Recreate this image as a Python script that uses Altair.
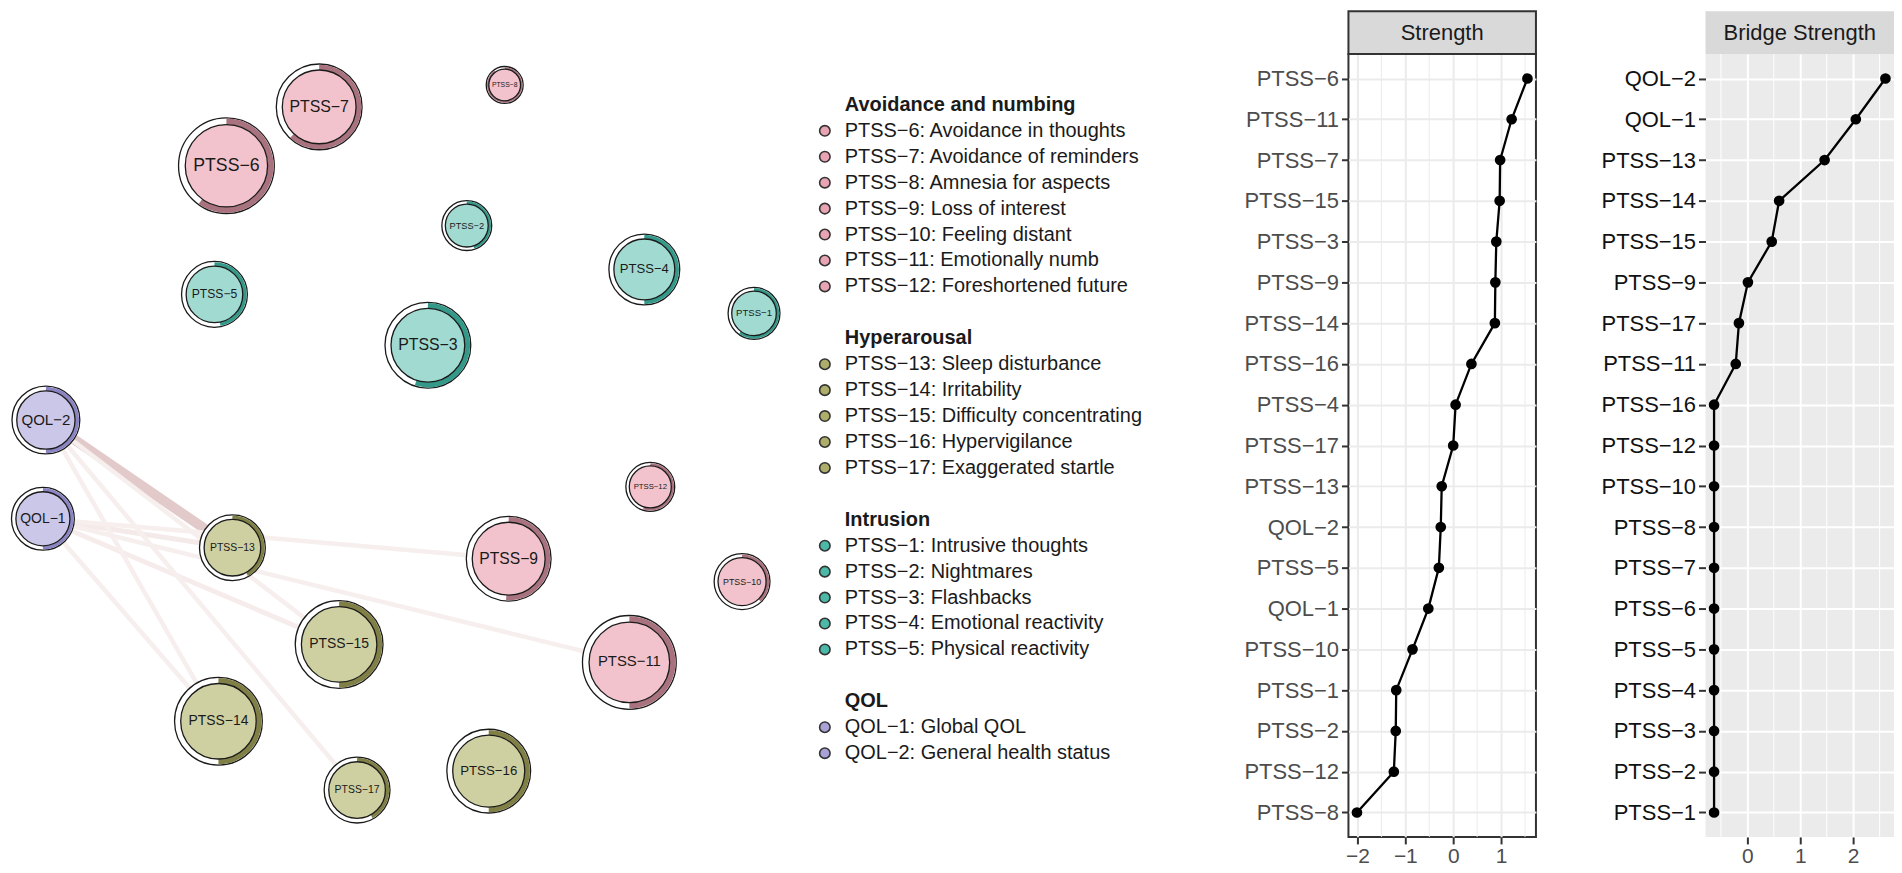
import altair as alt
import pandas as pd

FONT = "Liberation Sans"

# ---------------- network nodes (layout) ----------------
node_names = ["PTSS−1", "PTSS−2", "PTSS−3", "PTSS−4", "PTSS−5",
              "PTSS−6", "PTSS−7", "PTSS−8", "PTSS−9", "PTSS−10", "PTSS−11", "PTSS−12",
              "PTSS−13", "PTSS−14", "PTSS−15", "PTSS−16", "PTSS−17",
              "QOL−1", "QOL−2"]
node_groups = ["Intrusion"] * 5 + ["Avoidance and numbing"] * 7 + ["Hyperarousal"] * 5 + ["QOL"] * 2
node_x = [752, 464, 425, 642, 211, 223, 316, 502, 506, 740, 627, 648, 229, 215, 336, 486, 354, 39, 42]
node_y = [311, 223, 343, 267, 292, 163, 104, 82, 557, 580, 661, 485, 546, 720, 643, 770, 789, 517, 418]
node_r = [26, 25, 43, 35.5, 33, 48, 43, 18.5, 42.5, 28, 47, 24.5, 33, 44, 44, 42, 33, 31.5, 34]
node_pie = [0.6, 0.45, 0.55, 0.5, 0.47, 0.6, 0.62, 0.9, 0.51, 0.38, 0.5, 0.55,
            0.42, 0.5, 0.5, 0.5, 0.42, 0.5, 0.5]

edge_from = ["QOL−2", "QOL−1", "QOL−1", "QOL−1", "QOL−1", "QOL−1", "QOL−2", "QOL−2", "QOL−2"]
edge_to = ["PTSS−13", "PTSS−13", "PTSS−9", "PTSS−11", "PTSS−15", "PTSS−14", "PTSS−14", "PTSS−17", "PTSS−15"]
edge_weight = [0.22, 0.07, 0.05, 0.05, 0.06, 0.05, 0.05, 0.05, 0.05]

group_names = ["Avoidance and numbing", "Hyperarousal", "Intrusion", "QOL"]
group_fill = ["#F2C3CC", "#CFD0A1", "#A1DAD1", "#CBC7E8"]
group_ring = ["#A9727F", "#7F7F46", "#35998A", "#8A85C2"]
group_dot = ["#E8A4B2", "#ADAE69", "#4BB8A8", "#A8A2D7"]

legend_codes = [["PTSS−6", "PTSS−7", "PTSS−8", "PTSS−9", "PTSS−10", "PTSS−11", "PTSS−12"],
                ["PTSS−13", "PTSS−14", "PTSS−15", "PTSS−16", "PTSS−17"],
                ["PTSS−1", "PTSS−2", "PTSS−3", "PTSS−4", "PTSS−5"],
                ["QOL−1", "QOL−2"]]
legend_desc = [["Avoidance in thoughts", "Avoidance of reminders", "Amnesia for aspects",
                "Loss of interest", "Feeling distant", "Emotionally numb", "Foreshortened future"],
               ["Sleep disturbance", "Irritability", "Difficulty concentrating",
                "Hypervigilance", "Exaggerated startle"],
               ["Intrusive thoughts", "Nightmares", "Flashbacks", "Emotional reactivity",
                "Physical reactivity"],
               ["Global QOL", "General health status"]]

# ---------------- centrality ----------------
strength_nodes = ["PTSS−6", "PTSS−11", "PTSS−7", "PTSS−15", "PTSS−3", "PTSS−9", "PTSS−14",
                  "PTSS−16", "PTSS−4", "PTSS−17", "PTSS−13", "QOL−2", "PTSS−5", "QOL−1",
                  "PTSS−10", "PTSS−1", "PTSS−2", "PTSS−12", "PTSS−8"]
strength_vals = [1.55, 1.22, 0.98, 0.97, 0.90, 0.88, 0.87, 0.38, 0.05, 0.00, -0.24, -0.26,
                 -0.30, -0.52, -0.85, -1.19, -1.20, -1.24, -2.01]

bridge_nodes = ["QOL−2", "QOL−1", "PTSS−13", "PTSS−14", "PTSS−15", "PTSS−9", "PTSS−17",
                "PTSS−11", "PTSS−16", "PTSS−12", "PTSS−10", "PTSS−8", "PTSS−7", "PTSS−6",
                "PTSS−5", "PTSS−4", "PTSS−3", "PTSS−2", "PTSS−1"]
bridge_vals = [2.61, 2.05, 1.46, 0.60, 0.46, 0.01, -0.16, -0.22, -0.63, -0.63, -0.63, -0.63,
               -0.63, -0.63, -0.63, -0.63, -0.63, -0.63, -0.63]

strength_ticks = [-2, -1, 0, 1]
strength_minor = [-1.5, -0.5, 0.5, 1.5]
bridge_ticks = [0, 1, 2]
bridge_minor = [-0.5, 0.5, 1.5, 2.5]

# ---------------- tables ----------------
gi = {g: i for i, g in enumerate(group_names)}
nodes = pd.DataFrame({
    "name": node_names, "grp": node_groups, "x": node_x, "y": node_y,
    "r": node_r, "pie": node_pie,
    "fillc": [group_fill[gi[g]] for g in node_groups],
    "ringc": [group_ring[gi[g]] for g in node_groups],
})
pos = {n: (x, y) for n, x, y in zip(node_names, node_x, node_y)}
edges = pd.DataFrame({
    "x1": [pos[a][0] for a in edge_from], "y1": [pos[a][1] for a in edge_from],
    "x2": [pos[b][0] for b in edge_to], "y2": [pos[b][1] for b in edge_to],
    "w": edge_weight,
})

leg_rows = []
row = 0
for g, codes, descs in zip(group_names, legend_codes, legend_desc):
    leg_rows.append({"row": row, "text": g, "kind": "head", "dot": group_dot[gi[g]]})
    row += 1
    for c, d in zip(codes, descs):
        leg_rows.append({"row": row, "text": f"{c}: {d}", "kind": "item", "dot": group_dot[gi[g]]})
        row += 1
    row += 1
legend = pd.DataFrame(leg_rows)
LEG_Y0, LEG_STEP = 102, 26
legend["ly"] = LEG_Y0 + legend["row"] * LEG_STEP

# ---------------- panel A: network + legend ----------------
PLOT_TOP, PLOT_H = 51, 785
WA = 1170
xs = alt.Scale(domain=[8, 8 + WA], nice=False, zero=False)
ys = alt.Scale(domain=[PLOT_TOP, PLOT_TOP + PLOT_H], reverse=True, nice=False, zero=False)
X = alt.X("x:Q", scale=xs, axis=None)
Y = alt.Y("y:Q", scale=ys, axis=None)

edge_layer = alt.Chart(edges).mark_rule(strokeCap="butt").encode(
    x=alt.X("x1:Q", scale=xs, axis=None), y=alt.Y("y1:Q", scale=ys, axis=None),
    x2=alt.X2("x2"), y2=alt.Y2("y2"),
    strokeWidth=alt.StrokeWidth("w:Q", scale=alt.Scale(domain=[0.05, 0.22], range=[4.5, 10]), legend=None),
    color=alt.Color("w:Q", scale=alt.Scale(domain=[0.05, 0.22], range=["#F7EEEE", "#E3CACA"]), legend=None),
)

outer = alt.Chart(nodes).transform_calculate(so="pow(2*datum.r, 2)").mark_circle(
    fill="white", stroke="#1A1A1A", strokeWidth=1.3, opacity=1
).encode(x=X, y=Y, size=alt.Size("so:Q", scale=None))

ring = alt.Chart(nodes).transform_calculate(
    t0="0", t1="datum.pie*2*PI", ro="datum.r-0.7", ri="datum.r*0.86"
).mark_arc(strokeWidth=0).encode(
    x=X, y=Y,
    theta=alt.Theta("t0:Q", scale=None, stack=False), theta2=alt.Theta2("t1"),
    radius=alt.Radius("ro:Q", scale=None, stack=False), radius2=alt.Radius2("ri"),
    fill=alt.Fill("ringc:N", scale=None),
)

inner = alt.Chart(nodes).transform_calculate(si="pow(2*datum.r*0.86, 2)").mark_circle(
    stroke="#1A1A1A", strokeWidth=1.3, opacity=1
).encode(x=X, y=Y, size=alt.Size("si:Q", scale=None), fill=alt.Fill("fillc:N", scale=None))

labels = alt.Chart(nodes).transform_calculate(
    fs="1.6*datum.r*0.86/(0.62*length(datum.name))"
).mark_text(font=FONT, color="#1A1A1A", baseline="middle", align="center").encode(
    x=X, y=Y, text="name:N", size=alt.Size("fs:Q", scale=None))

LEG_DOT_X, LEG_TEXT_X = 823 - 8, 843 - 8
leg_dots = alt.Chart(legend).transform_filter("datum.kind == 'item'").mark_circle(
    size=110, stroke="#333333", strokeWidth=1.6, opacity=1
).encode(x=alt.value(LEG_DOT_X), y=alt.Y("ly:Q", scale=ys, axis=None),
         fill=alt.Fill("dot:N", scale=None))
leg_items = alt.Chart(legend).transform_filter("datum.kind == 'item'").mark_text(
    font=FONT, fontSize=20, align="left", baseline="middle", color="#1A1A1A"
).encode(x=alt.value(LEG_TEXT_X), y=alt.Y("ly:Q", scale=ys, axis=None), text="text:N")
leg_heads = alt.Chart(legend).transform_filter("datum.kind == 'head'").mark_text(
    font=FONT, fontSize=20, fontWeight="bold", align="left", baseline="middle", color="#1A1A1A"
).encode(x=alt.value(LEG_TEXT_X), y=alt.Y("ly:Q", scale=ys, axis=None), text="text:N")

panel_a = alt.layer(edge_layer, outer, ring, inner, labels, leg_dots, leg_items, leg_heads).resolve_scale(
    size="independent", fill="independent", color="independent", strokeWidth="independent"
).properties(width=WA, height=PLOT_H, view=alt.ViewBackground(strokeWidth=0))


# ---------------- centrality panels ----------------
def expand(vals):
    lo, hi = min(vals), max(vals)
    d = (hi - lo) * 0.05
    return [lo - d, hi + d]


def centrality_panel(title, nodes_order, vals, ticks, minor, width, bw):
    df = pd.DataFrame({"node": nodes_order, "v": vals, "rank": list(range(len(vals)))})
    grid_col = "#EBEBEB" if bw else "#FFFFFF"
    xscale = alt.Scale(domain=expand(vals), nice=False, zero=False)
    xaxis = alt.Axis(values=ticks, title=None, grid=True, gridColor=grid_col, gridWidth=2,
                     domain=False, tickColor="#333333", tickWidth=2, tickSize=7,
                     labelFont=FONT, labelFontSize=21, labelColor="#4D4D4D", labelPadding=2)
    yaxis = alt.Axis(title=None, grid=True, gridColor=grid_col, gridWidth=2, domain=False,
                     tickColor="#333333", tickWidth=2, tickSize=7, labelFont=FONT,
                     labelFontSize=22, labelColor="#4D4D4D" if bw else "#111111", labelPadding=3)
    yenc = alt.Y("node:N", sort=nodes_order, scale=alt.Scale(padding=0.6), axis=yaxis)
    minor_layer = alt.Chart(pd.DataFrame({"v": minor})).mark_rule(
        color=grid_col, strokeWidth=1).encode(x=alt.X("v:Q", scale=xscale, axis=xaxis))
    line = alt.Chart(df).mark_line(color="black", strokeWidth=2.3).encode(
        x=alt.X("v:Q", scale=xscale, axis=xaxis), y=yenc, order="rank:Q")
    pts = alt.Chart(df).mark_circle(size=115, color="black", opacity=1).encode(
        x=alt.X("v:Q", scale=xscale, axis=xaxis), y=yenc)
    hdf = pd.DataFrame({"t": [title]})
    head = alt.Chart(hdf).mark_rect(
        fill="#D9D9D9", stroke="#333333" if bw else "#D9D9D9", strokeWidth=2 if bw else 0
    ).encode(x=alt.value(0), x2=alt.value(width), y=alt.value(-43), y2=alt.value(0))
    head_txt = alt.Chart(hdf).mark_text(font=FONT, fontSize=22, color="#1A1A1A",
                                         baseline="middle", align="center").encode(
        x=alt.value(width / 2), y=alt.value(-21.5), text="t:N")
    view = (alt.ViewBackground(fill="white", stroke="#333333", strokeWidth=2) if bw
            else alt.ViewBackground(fill="#EBEBEB", strokeWidth=0))
    return alt.layer(minor_layer, line, pts, head, head_txt).properties(
        width=width, height=PLOT_H, view=view)


panel_b = centrality_panel("Strength", strength_nodes, strength_vals, strength_ticks,
                           strength_minor, 188, True)
panel_c = centrality_panel("Bridge Strength", bridge_nodes, bridge_vals, bridge_ticks,
                           bridge_minor, 189, False)

chart = alt.hconcat(panel_a, panel_b, panel_c, spacing=170, bounds="flush").properties(
    padding=0
).configure(background="white", font=FONT).configure_view(strokeWidth=0)

chart.save("out.html", embed_options={"renderer": "svg", "actions": False})
